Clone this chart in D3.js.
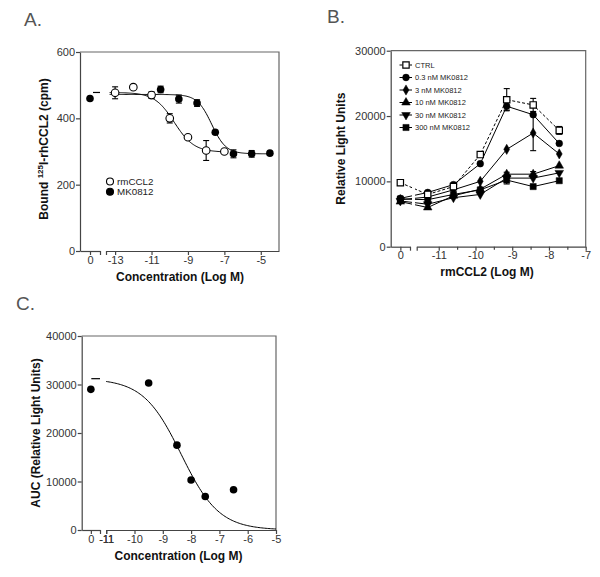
<!DOCTYPE html>
<html>
<head>
<meta charset="utf-8">
<script src="https://cdn.jsdelivr.net/npm/d3@7"></script>
<style>
  body { margin: 0; background: #fff; }
  svg { font-family: "Liberation Sans", Arial, sans-serif; }
  .axis path, .axis line { stroke: #444; stroke-width: 1.2; }
  .axis text { font-size: 11px; fill: #333; font-family: "Liberation Sans", Arial, sans-serif; }
  .title { font-size: 12px; font-weight: bold; fill: #111; }
</style>
</head>
<body>
<svg width="600" height="577"></svg>
<script>
// ---- panel A: binding (cpm) ----
const aRmX = [-13, -12, -11, -10, -9, -8, -7];
const aRmY = [477, 494, 470, 400, 343, 303, 300];
const aRmErr = [18, 0, 10, 14, 0, 30, 5];
const aMkZero = 460;
const aMkX = [-10.5, -9.5, -8.5, -7.5, -6.5, -5.5, -4.5];
const aMkY = [487, 458, 446, 358, 293, 293, 295];
const aMkErr = [10, 12, 10, 0, 12, 10, 0];
const aRmFit = { top: 478, bottom: 298, logIC50: -9.75, hill: 0.8 };
const aMkFit = { top: 472, bottom: 293, logIC50: -7.7, hill: 1.1 };
const aYTicks = [0, 200, 400, 600];
const aXTicks = [-13, -11, -9, -7, -5];

// ---- panel B: light units vs rmCCL2 ----
const bX = [-11.3, -10.6, -9.87, -9.15, -8.43, -7.72];
const bNames = ["CTRL", "0.3 nM MK0812", "3 nM MK0812", "10 nM MK0812", "30 nM MK0812", "300 nM MK0812"];
const bZero = [9800, 7400, 7200, 6900, 7000, 7300];
const bCtrl = [8000, 9200, 14100, 22500, 21700, 17800];
const b03 = [8300, 9500, 12700, 21500, 20200, 15800];
const b3 = [7600, 8700, 10000, 14900, 17400, 14200];
const b10 = [6000, 7800, 8800, 11100, 11100, 12400];
const b30 = [6500, 7500, 8000, 10500, 10500, 11300];
const b300 = [7200, 8000, 8700, 10200, 9200, 10100];
const bCtrlErr = [0, 0, 0, 1700, 1000, 600];
const b03Err = [0, 0, 0, 600, 0, 0];
const b3Err = [0, 0, 0, 0, 2700, 0];
const b10Err = [0, 0, 0, 0, 400, 0];
const b30Err = [0, 0, 0, 900, 0, 0];
const b300Err = [0, 0, 0, 0, 0, 0];
const bYTicks = [0, 10000, 20000, 30000];
const bXTicks = [-11, -10, -9, -8, -7];
const bXMinor = [-10.5, -9.5, -8.5, -7.5];

// ---- panel C: AUC ----
const cZero = 29000;
const cX = [-9.5, -8.5, -8, -7.5, -6.5];
const cY = [30300, 17500, 10300, 6900, 8300];
const cFit = { top: 31200, bottom: 0, logIC50: -8.35, hill: 0.65 };
const cYTicks = [0, 10000, 20000, 30000, 40000];
const cXTicks = [-11, -10, -9, -8, -7, -6, -5];

const svg = d3.select("svg");

const sigmoid = f => x =>
  f.bottom + (f.top - f.bottom) / (1 + Math.pow(10, (x - f.logIC50) * f.hill));

const makePanel = p => {
  const g = svg.append("g");
  const y = d3.scaleLinear().domain(p.yDomain).range([p.bottom, p.top]);
  const x0 = d3.scaleLinear().domain([-1, 1]).range(p.seg1);
  const x = d3.scaleLinear().domain(p.xDomain).range(p.seg2);

  g.append("path")
    .attr("d", `M${p.seg1[0]},${p.top}H${p.seg2[1]}V${p.bottom}`)
    .attr("fill", "none")
    .attr("stroke", "#666")
    .attr("stroke-width", 1.2);

  g.append("g")
    .attr("class", "axis")
    .attr("transform", `translate(${p.seg1[0]},0)`)
    .call(d3.axisLeft(y).tickValues(p.yTicks).tickFormat(d => String(d)).tickSize(4).tickSizeOuter(0).tickPadding(1));

  g.append("g")
    .attr("class", "axis")
    .attr("transform", `translate(0,${p.bottom})`)
    .call(d3.axisBottom(x0).tickValues([0, 1]).tickFormat(d => (d === 0 ? "0" : "")).tickSize(4).tickSizeOuter(0).tickPadding(1));

  const xAxis = g.append("g")
    .attr("class", "axis")
    .attr("transform", `translate(0,${p.bottom})`)
    .call(d3.axisBottom(x)
      .tickValues([p.xDomain[0], ...p.xTicks, ...(p.xMinor || [])])
      .tickFormat(d => (p.xTicks.includes(d) ? String(d) : ""))
      .tickSize(4).tickSizeOuter(0).tickPadding(1));
  xAxis.selectAll(".tick")
    .filter(d => p.xMinor && p.xMinor.includes(d))
    .select("line").attr("y2", 3);

  g.append("text")
    .attr("x", p.letterPos[0]).attr("y", p.letterPos[1])
    .attr("font-size", 19).attr("fill", "#555")
    .text(p.letter);

  g.append("text")
    .attr("class", "title")
    .attr("x", p.xTitlePos[0]).attr("y", p.xTitlePos[1])
    .attr("text-anchor", "middle")
    .text(p.xTitle);

  const yt = g.append("text")
    .attr("class", "title")
    .attr("transform", `translate(${p.yTitlePos[0]},${p.yTitlePos[1]}) rotate(-90)`)
    .attr("text-anchor", "middle");
  p.yTitle(yt);

  return { g, x, x0, y };
};

const errBars = (g, pts, cap) => {
  const sel = g.append("g").attr("stroke", "#000").attr("stroke-width", 1.1);
  pts.filter(d => d.e > 0).forEach(d => {
    sel.append("line").attr("x1", d.px).attr("x2", d.px).attr("y1", d.py0).attr("y2", d.py1);
    [d.py0, d.py1].forEach(v =>
      sel.append("line").attr("x1", d.px - cap).attr("x2", d.px + cap).attr("y1", v).attr("y2", v));
  });
};

// ================= A =================
{
  const P = makePanel({
    top: 52, bottom: 251, seg1: [80, 100], seg2: [106, 279],
    yDomain: [0, 600], xDomain: [-13.5, -4],
    yTicks: aYTicks, xTicks: aXTicks,
    letter: "A.", letterPos: [24, 26],
    xTitle: "Concentration (Log M)", xTitlePos: [180, 281],
    yTitlePos: [47.5, 149],
    yTitle: t => {
      t.append("tspan").text("Bound ");
      t.append("tspan").attr("font-size", 8).attr("dy", -5).text("125");
      t.append("tspan").attr("dy", 5).text("I-rhCCL2 (cpm)");
    }
  });
  const { g, x, x0, y } = P;

  const line = d3.line().x(d => x(d));
  [[aRmFit, -13.3, -7], [aMkFit, -13.3, -4.5]].forEach(([f, a, b]) => {
    const fn = sigmoid(f);
    g.append("path")
      .datum(d3.range(a, b + 0.001, 0.05))
      .attr("d", line.y(d => y(fn(d))))
      .attr("fill", "none").attr("stroke", "#000").attr("stroke-width", 1);
  });
  // curve plateau in the zero segment
  g.append("line")
    .attr("x1", x0(0.3)).attr("x2", x0(1))
    .attr("y1", y(aRmFit.top)).attr("y2", y(aRmFit.top))
    .attr("stroke", "#000").attr("stroke-width", 1.2);

  const rm = aRmX.map((v, i) => ({ px: x(v), py: y(aRmY[i]), e: aRmErr[i], py0: y(aRmY[i] + aRmErr[i]), py1: y(aRmY[i] - aRmErr[i]) }));
  const mk = aMkX.map((v, i) => ({ px: x(v), py: y(aMkY[i]), e: aMkErr[i], py0: y(aMkY[i] + aMkErr[i]), py1: y(aMkY[i] - aMkErr[i]) }));
  errBars(g, rm, 3);
  errBars(g, mk, 3);

  g.append("g").selectAll("circle").data(mk).join("circle")
    .attr("cx", d => d.px).attr("cy", d => d.py).attr("r", 3.8).attr("fill", "#000");
  g.append("circle").attr("cx", x0(0)).attr("cy", y(aMkZero)).attr("r", 3.8).attr("fill", "#000");
  g.append("g").selectAll("circle").data(rm).join("circle")
    .attr("cx", d => d.px).attr("cy", d => d.py).attr("r", 3.8)
    .attr("fill", "#fff").attr("stroke", "#000").attr("stroke-width", 1.1);

  // legend
  const leg = [["rmCCL2", "#fff"], ["MK0812", "#000"]];
  leg.forEach(([name, fill], i) => {
    const ly = 181.5 + i * 10.2;
    g.append("circle").attr("cx", 110).attr("cy", ly).attr("r", 3.5)
      .attr("fill", fill).attr("stroke", "#000").attr("stroke-width", 1.1);
    g.append("text").attr("x", 117).attr("y", ly + 3.5).attr("font-size", 9.8).attr("fill", "#222").text(name);
  });
}

// ================= B =================
{
  const P = makePanel({
    top: 50.7, bottom: 246.7, seg1: [390.7, 410], seg2: [416.7, 585.7],
    yDomain: [0, 30000], xDomain: [-11.6, -7],
    yTicks: bYTicks, xTicks: bXTicks, xMinor: bXMinor,
    letter: "B.", letterPos: [327, 23],
    xTitle: "rmCCL2 (Log M)", xTitlePos: [487, 276],
    yTitlePos: [345, 148.7],
    yTitle: t => t.text("Relative Light Units")
  });
  const { g, x, x0, y } = P;

  const defs = svg.append("defs");
  const clip = defs.append("clipPath").attr("id", "clipB");
  clip.append("rect").attr("x", 0).attr("y", 0).attr("width", 412).attr("height", 577);
  clip.append("rect").attr("x", 415).attr("y", 0).attr("width", 185).attr("height", 577);

  const series = [bCtrl, b03, b3, b10, b30, b300];
  const errs = [bCtrlErr, b03Err, b3Err, b10Err, b30Err, b300Err];
  const sym = [
    { type: d3.symbolSquare, size: 40, fill: "#fff", rot: 0 },
    { type: d3.symbolCircle, size: 36, fill: "#000", rot: 0 },
    { type: d3.symbolDiamond, size: 30, fill: "#000", rot: 0 },
    { type: d3.symbolTriangle, size: 32, fill: "#000", rot: 0 },
    { type: d3.symbolTriangle, size: 32, fill: "#000", rot: 180 },
    { type: d3.symbolSquare, size: 38, fill: "#000", rot: 0 }
  ];

  const line = d3.line().x(d => d.px).y(d => d.py);
  const data = series.map((vals, k) => {
    const pts = [{ px: x0(0), py: y(bZero[k]), e: 0 }];
    vals.forEach((v, i) => pts.push({
      px: x(bX[i]), py: y(v), e: errs[k][i],
      py0: y(v + errs[k][i]), py1: y(v - errs[k][i])
    }));
    return pts;
  });

  // draw lines back to front so ctrl dashed stays visible
  data.slice().reverse().forEach((pts, rk) => {
    const k = data.length - 1 - rk;
    g.append("path").datum(pts)
      .attr("d", line)
      .attr("clip-path", "url(#clipB)")
      .attr("fill", "none").attr("stroke", "#000").attr("stroke-width", 1)
      .attr("stroke-dasharray", k === 0 ? "3,2" : null);
  });
  data.forEach(pts => errBars(g, pts, 3));
  data.slice().reverse().forEach((pts, rk) => {
    const s = sym[data.length - 1 - rk];
    g.append("g").selectAll("path").data(pts).join("path")
      .attr("d", d3.symbol(s.type, s.size))
      .attr("transform", d => `translate(${d.px},${d.py}) rotate(${s.rot})`)
      .attr("fill", s.fill).attr("stroke", "#000").attr("stroke-width", s.fill === "#fff" ? 1.2 : 0.5);
  });

  // legend
  bNames.forEach((name, k) => {
    const ly = 65 + k * 12.5;
    const s = sym[k];
    g.append("line").attr("x1", 399.5).attr("x2", 412).attr("y1", ly).attr("y2", ly)
      .attr("stroke", "#000").attr("stroke-width", 1)
      .attr("stroke-dasharray", k === 0 ? "3,2" : null);
    g.append("path").attr("d", d3.symbol(s.type, s.size))
      .attr("transform", `translate(406,${ly}) rotate(${s.rot})`)
      .attr("fill", s.fill).attr("stroke", "#000").attr("stroke-width", s.fill === "#fff" ? 1.2 : 0.5);
    g.append("text").attr("x", 415).attr("y", ly + 2.7).attr("font-size", 7.5).attr("fill", "#222").text(name);
  });
}

// ================= C =================
{
  const P = makePanel({
    top: 336, bottom: 530, seg1: [81.7, 100], seg2: [106.2, 276],
    yDomain: [0, 40000], xDomain: [-11, -5],
    yTicks: cYTicks, xTicks: cXTicks,
    letter: "C.", letterPos: [16, 310],
    xTitle: "Concentration (Log M)", xTitlePos: [178.5, 560],
    yTitlePos: [40, 433],
    yTitle: t => t.text("AUC (Relative Light Units)")
  });
  const { g, x, x0, y } = P;
  const fn = sigmoid(cFit);
  g.append("path")
    .datum(d3.range(-11, -5 + 0.001, 0.05))
    .attr("d", d3.line().x(d => x(d)).y(d => y(fn(d))))
    .attr("fill", "none").attr("stroke", "#000").attr("stroke-width", 1);
  g.append("line")
    .attr("x1", x0(0.05)).attr("x2", x0(1))
    .attr("y1", y(cFit.top)).attr("y2", y(cFit.top))
    .attr("stroke", "#000").attr("stroke-width", 1.2);
  g.append("circle").attr("cx", x0(0)).attr("cy", y(cZero)).attr("r", 3.8).attr("fill", "#000");
  g.append("g").selectAll("circle").data(cX).join("circle")
    .attr("cx", d => x(d)).attr("cy", (d, i) => y(cY[i])).attr("r", 3.8).attr("fill", "#000");
}
</script>
</body>
</html>
